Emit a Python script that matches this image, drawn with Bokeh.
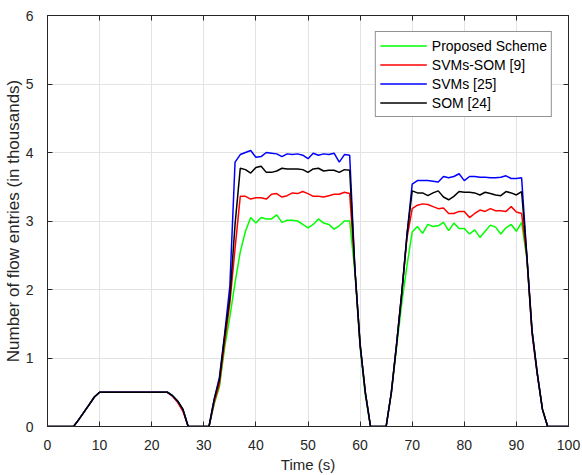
from bokeh.plotting import figure
from bokeh.models import (Range1d, LinearAxis, Legend, LegendItem,
                          SingleIntervalTicker, CustomJSTickFormatter)
from bokeh.embed import file_html
from bokeh.resources import INLINE

# ---- data ----
time_s = list(range(0, 101))

x_ticks_interval = 10
y_ticks_interval = 1

proposed = [
    0, 0, 0, 0, 0, 0, 0.10, 0.21, 0.32, 0.43, 0.50,
    0.50, 0.50, 0.50, 0.50, 0.50, 0.50, 0.50, 0.50, 0.50, 0.50,
    0.50, 0.50, 0.50, 0.45, 0.37, 0.25, 0, 0, 0, 0,
    0, 0.33, 0.58, 1.15, 1.60, 2.10, 2.55, 2.85, 3.05, 2.97,
    3.05, 3.03, 3.03, 3.09, 2.98, 3.01, 3.01, 3.00, 2.95, 2.90,
    2.95, 3.03, 2.97, 2.95, 2.88, 2.93, 3.00, 3.00, 2.25, 1.15,
    0.45, 0, 0, 0, 0, 0.48, 1.15, 1.80, 2.35, 2.84,
    2.92, 2.82, 2.95, 2.92, 2.93, 2.98, 2.86, 2.97, 2.89, 2.89,
    2.81, 2.87, 2.76, 2.85, 2.94, 2.91, 2.81, 2.90, 2.95, 2.85,
    2.98, 2.45, 1.40, 0.78, 0.25, 0, 0, 0, 0, 0,
]

svms_som = [
    0, 0, 0, 0, 0, 0, 0.10, 0.21, 0.32, 0.43, 0.50,
    0.50, 0.50, 0.50, 0.50, 0.50, 0.50, 0.50, 0.50, 0.50, 0.50,
    0.50, 0.50, 0.50, 0.44, 0.35, 0.22, 0, 0, 0, 0,
    0, 0.35, 0.62, 1.22, 1.80, 2.60, 3.36, 3.36, 3.32, 3.34,
    3.34, 3.32, 3.39, 3.40, 3.35, 3.37, 3.41, 3.40, 3.43, 3.40,
    3.36, 3.36, 3.35, 3.37, 3.39, 3.39, 3.42, 3.40, 2.30, 1.20,
    0.50, 0, 0, 0, 0, 0.50, 1.20, 1.95, 2.75, 3.18,
    3.23, 3.25, 3.24, 3.21, 3.18, 3.19, 3.11, 3.11, 3.14, 3.14,
    3.05, 3.11, 3.16, 3.14, 3.18, 3.15, 3.15, 3.14, 3.21, 3.13,
    3.11, 2.48, 1.35, 0.76, 0.25, 0, 0, 0, 0, 0,
]

svms = [
    0, 0, 0, 0, 0, 0, 0.10, 0.21, 0.32, 0.43, 0.50,
    0.50, 0.50, 0.50, 0.50, 0.50, 0.50, 0.50, 0.50, 0.50, 0.50,
    0.50, 0.50, 0.50, 0.45, 0.37, 0.25, 0, 0, 0, 0,
    0, 0.40, 0.72, 1.35, 2.05, 3.86, 3.97, 4.00, 4.03, 3.93,
    3.94, 4.00, 3.99, 3.98, 3.94, 3.98, 3.97, 3.98, 3.96, 3.91,
    3.99, 3.96, 3.98, 3.97, 3.99, 3.86, 3.97, 3.96, 2.30, 1.20,
    0.50, 0, 0, 0, 0, 0.50, 1.20, 1.95, 2.80, 3.54,
    3.59, 3.59, 3.59, 3.58, 3.57, 3.65, 3.63, 3.65, 3.69, 3.59,
    3.65, 3.65, 3.64, 3.64, 3.63, 3.63, 3.64, 3.66, 3.62, 3.62,
    3.63, 2.50, 1.40, 0.78, 0.25, 0, 0, 0, 0, 0,
]

som = [
    0, 0, 0, 0, 0, 0, 0.10, 0.21, 0.32, 0.43, 0.50,
    0.50, 0.50, 0.50, 0.50, 0.50, 0.50, 0.50, 0.50, 0.50, 0.50,
    0.50, 0.50, 0.50, 0.45, 0.37, 0.25, 0, 0, 0, 0,
    0, 0.40, 0.68, 1.32, 1.88, 2.95, 3.77, 3.75, 3.70, 3.78,
    3.80, 3.71, 3.71, 3.73, 3.77, 3.76, 3.76, 3.76, 3.75, 3.71,
    3.76, 3.77, 3.73, 3.74, 3.74, 3.71, 3.75, 3.74, 2.30, 1.20,
    0.50, 0, 0, 0, 0, 0.50, 1.20, 1.95, 2.80, 3.44,
    3.41, 3.41, 3.37, 3.41, 3.44, 3.35, 3.31, 3.36, 3.43, 3.42,
    3.42, 3.41, 3.38, 3.42, 3.40, 3.38, 3.37, 3.43, 3.41, 3.38,
    3.43, 2.50, 1.40, 0.78, 0.25, 0, 0, 0, 0, 0,
]

series_names = ["Proposed Scheme", "SVMs-SOM [9]", "SVMs [25]", "SOM [24]"]
series_colors = ["#00ff00", "#ff0000", "#0000ff", "#000000"]
series_values = [proposed, svms_som, svms, som]

FONT = "Liberation Sans"
AX = "#262626"

p = figure(width=582, height=475, output_backend="svg", toolbar_location=None,
           x_range=Range1d(0, 100), y_range=Range1d(0, 6),
           min_border_left=40, min_border_right=14, min_border_top=15,
           min_border_bottom=40)
p.background_fill_color = "white"
p.border_fill_color = "white"
p.outline_line_color = AX
p.outline_line_width = 1

bottom_ax = p.below[0]
left_ax = p.left[0]
bottom_ax.ticker = SingleIntervalTicker(interval=x_ticks_interval)
left_ax.ticker = SingleIntervalTicker(interval=y_ticks_interval)

blank = CustomJSTickFormatter(code="return '';")
top_ax = LinearAxis(ticker=SingleIntervalTicker(interval=x_ticks_interval),
                    formatter=blank)
right_ax = LinearAxis(ticker=SingleIntervalTicker(interval=y_ticks_interval),
                      formatter=blank)
p.add_layout(top_ax, "above")
p.add_layout(right_ax, "right")

for ax in [bottom_ax, left_ax, top_ax, right_ax]:
    ax.major_tick_in = 5
    ax.major_tick_out = 0
    ax.minor_tick_line_color = None
    ax.axis_line_color = AX
    ax.major_tick_line_color = AX
    ax.major_label_text_font = FONT
    ax.major_label_text_font_size = "14px"
    ax.major_label_text_color = AX

for ax in [top_ax, right_ax]:
    ax.major_label_standoff = 0

bottom_ax.major_label_standoff = 9
left_ax.major_label_standoff = 10

bottom_ax.axis_label = "Time (s)"
bottom_ax.axis_label_text_font = FONT
bottom_ax.axis_label_text_font_size = "15px"
bottom_ax.axis_label_text_font_style = "normal"
bottom_ax.axis_label_text_color = AX
bottom_ax.axis_label_standoff = 3

left_ax.axis_label = "Number of flow entries (in thousands)"
left_ax.axis_label_text_font = FONT
left_ax.axis_label_text_font_size = "17px"
left_ax.axis_label_text_font_style = "normal"
left_ax.axis_label_text_color = AX
left_ax.axis_label_standoff = 0

p.xgrid.grid_line_color = "#e3e3e3"
p.ygrid.grid_line_color = "#e3e3e3"
p.xgrid.ticker = SingleIntervalTicker(interval=x_ticks_interval)
p.ygrid.ticker = SingleIntervalTicker(interval=y_ticks_interval)

items = []
for name, col, vals in zip(series_names, series_colors, series_values):
    r = p.line(time_s, vals, line_color=col, line_width=1.5)
    items.append(LegendItem(label=name, renderers=[r]))

legend = Legend(items=items, location="top_right")
legend.margin = 16
legend.padding = 4
legend.spacing = 0
legend.glyph_width = 47
legend.glyph_height = 19
legend.label_height = 19
legend.label_standoff = 5
legend.label_text_font = FONT
legend.label_text_font_size = "14px"
legend.label_text_color = "black"
legend.border_line_color = AX
legend.border_line_width = 1
legend.background_fill_color = "white"
legend.background_fill_alpha = 1
p.add_layout(legend, "center")

open("out.html", "w").write(file_html(p, INLINE))
